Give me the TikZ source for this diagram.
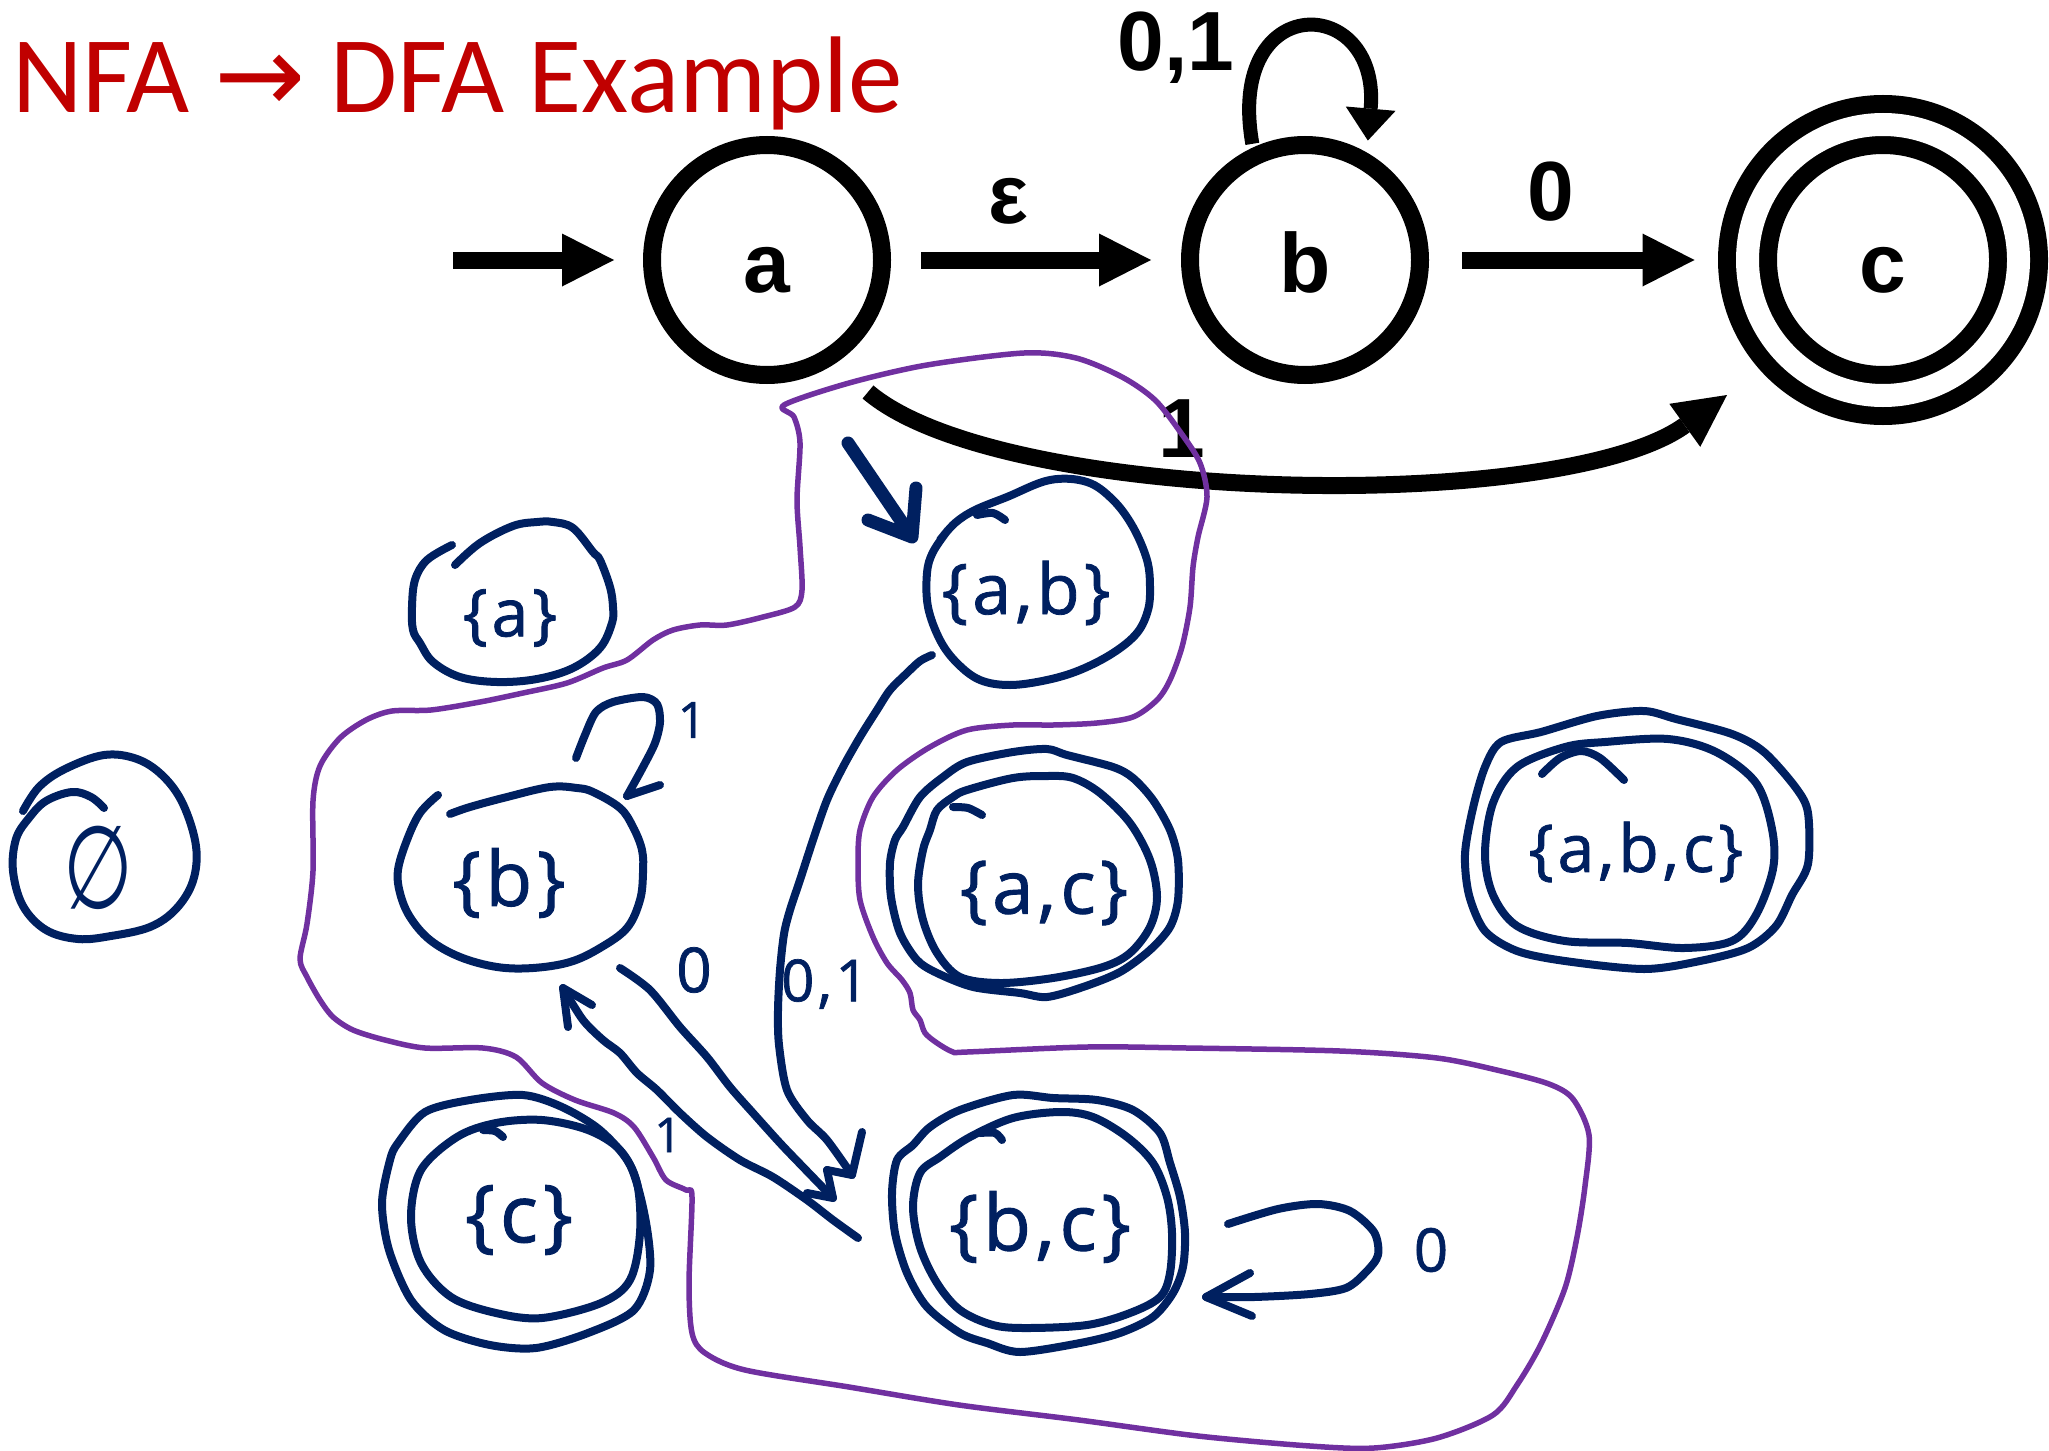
\documentclass[tikz,border=0pt]{standalone}
\usepackage{fontspec}
\usetikzlibrary{arrows.meta,calc}
\newfontfamily\titlefont{Carlito}
\newfontfamily\labelfont{Liberation Sans}
\newfontfamily\handfont{Open Sans}[LetterSpace=6.0, FakeBold=1.2]
\newfontfamily\symbolfont{DejaVu Sans}
\definecolor{penblue}{HTML}{002060}
\definecolor{penpurple}{HTML}{7030A0}
\definecolor{titlered}{HTML}{C00000}
\newcommand{\setsz}[1]{\fontsize{#1}{#1}\selectfont}

\tikzset{
  nfastate/.style={circle, draw=black, line width=18pt, minimum size=230pt,
    inner sep=0pt, outer sep=0pt,
    font=\labelfont\bfseries\setsz{84}, text height=70pt, text depth=6pt},
  nfaaccept/.style={nfastate, minimum size=271pt, double=white, double distance=23pt},
  nfaedge/.style={line width=17pt, -{Triangle[length=52pt,width=53pt,line width=0pt]}},
  nfaloop/.style={line width=14pt, -{Triangle[length=32pt,width=50pt,line width=0pt]}},
  nfalabel/.style={font=\labelfont\bfseries\setsz{84}, inner sep=0pt},
  pen/.style={draw=penblue, line width=8pt, line cap=round, line join=round},
  fence/.style={draw=penpurple, line width=5.5pt, line cap=round, line join=round},
  dstate/.style={text=penblue, inner sep=0pt},
  handlabel/.style={text=penblue, inner sep=0pt},
}

\begin{document}
\begin{tikzpicture}[x=1pt, y=-1pt]
\useasboundingbox (0,0) rectangle (2049,1450);

% ---------- title ----------
\node[anchor=base west, inner sep=0pt, text=titlered, font=\titlefont\setsz{109}]
  (title) at (12,113) {NFA {\symbolfont →} DFA Example};

% ---------- the NFA ----------
\node[nfastate]  (a) at (767,260) {a};
\node[nfastate]  (b) at (1305,260) {b};
\node[nfaaccept] (c) at (1883,260) {c};
\coordinate (start) at (453,260);

\draw[nfaedge, shorten >=38pt] (start) -- (a);
\draw[nfaedge, shorten <=39pt, shorten >=39pt] (a) -- (b);
\draw[nfaedge, shorten <=42pt, shorten >=53pt] (b) -- (c);
\draw[nfaloop, shorten <=13pt, shorten >=22pt] (b.116) to[out=100, in=85, distance=170pt] (b.58);
\draw[nfaedge] ($(a)+(101,132)$) .. controls (1000,505) and (1560,515) .. ($(c)+(-156,135)$);

\node[nfalabel] (leps) at (1008,201) {ε};
\node[nfalabel] (lloop) at (1176,48) {0,1};
\node[nfalabel] (lbc) at (1551,192) {0};
\node[nfalabel] (lac) at (1182,429) {1};

% ---------- the DFA states ----------
\node[dstate, font=\handfont\setsz{66}] (sa)   at (510,618)  {\{a\}};
\node[dstate, font=\handfont\setsz{76}] (sb)   at (509,883)  {\{b\}};
\node[dstate, font=\handfont\setsz{70}] (sab)  at (1026,593) {\{a,b\}};
\node[dstate, font=\handfont\setsz{74}] (sac)  at (1044,893) {\{a,c\}};
\node[dstate, font=\handfont\setsz{78}] (sbc)  at (1040,1227) {\{b,c\}};
\node[dstate, font=\handfont\setsz{80}] (sc)   at (519,1220) {\{c\}};
\node[dstate, font=\handfont\setsz{66}] (sabc) at (1636,852) {\{a,b,c\}};
\node[dstate, font=\symbolfont\setsz{80}] (sempty) at (98,868) {\scalebox{1}[1.45]{∅}};

% outlines of the states
\draw[pen] plot[smooth, tension=0.6] coordinates {(23,811) (39,787) (65,769) (104,755) (137,759) (163,776) (183,804) (196,846) (193,881) (176,909) (150,927) (111,936) (78,939) (46,930) (23,906) (13,871) (16,839) (29,818) (46,801) (72,792) (91,797) (104,808)};
\draw[pen] plot[smooth, tension=0.6] coordinates {(452,545) (427,560) (415,580) (412,607) (413,630) (420,643) (433,662) (460,677) (497,682) (537,679) (573,668) (600,648) (612,623) (613,607) (610,587) (600,560) (593,552) (573,528) (553,522) (537,522) (513,526) (480,543) (455,565)};
\draw[pen] plot[smooth, tension=0.6] coordinates {(438,795) (420,813) (407,840) (398,870) (400,893) (410,917) (430,940) (460,957) (497,967) (533,968) (570,962) (600,948) (627,928) (640,900) (643,873) (642,850) (633,827) (620,808) (593,792) (577,788) (550,787) (507,797) (470,807) (450,814)};
\draw[pen] plot[smooth, tension=0.6] coordinates {(940,540) (955,523) (975,510) (1007,497) (1050,480) (1087,482) (1113,500) (1133,527) (1147,560) (1150,587) (1148,610) (1137,633) (1113,653) (1080,670) (1047,680) (1010,685) (980,680) (957,663) (940,640) (928,607) (927,573) (933,552) (948,530)};
\draw[pen] plot[smooth] coordinates {(977,515) (993,513) (1005,520)};
% {a,c}
\draw[pen] plot[smooth cycle, tension=0.5] coordinates {(903,827) (920,797) (943,777) (967,762) (1013,752) (1047,749) (1067,755) (1113,767) (1133,778) (1153,800) (1170,830) (1178,860) (1178,900) (1170,927) (1150,950) (1120,972) (1083,987) (1047,997) (1020,993) (973,987) (937,973) (917,960) (900,933) (891,897) (890,863) (895,840)};
\draw[pen] plot[smooth cycle, tension=0.55] coordinates {(930,830) (937,810) (953,797) (967,790) (1013,778) (1047,776) (1073,778) (1100,793) (1130,823) (1150,860) (1157,897) (1150,927) (1130,953) (1103,967) (1053,978) (1000,983) (960,977) (937,953) (923,920) (918,885) (923,850)};
\draw[pen] plot[smooth] coordinates {(953,807) (968,808) (982,815)};
% {b,c}
\draw[pen] plot[smooth cycle, tension=0.5] coordinates {(913,1145) (930,1127) (960,1110) (1013,1095) (1053,1098) (1097,1100) (1133,1110) (1160,1133) (1170,1163) (1180,1197) (1185,1233) (1183,1267) (1173,1293) (1153,1317) (1120,1333) (1080,1343) (1020,1352) (987,1343) (960,1333) (927,1307) (907,1273) (895,1233) (892,1193) (897,1160)};
\draw[pen] plot[smooth cycle, tension=0.55] coordinates {(940,1157) (970,1137) (1013,1118) (1060,1112) (1093,1117) (1127,1137) (1153,1163) (1167,1197) (1172,1233) (1170,1273) (1160,1297) (1130,1313) (1087,1325) (1027,1328) (993,1325) (960,1310) (937,1283) (920,1247) (913,1207) (920,1173)};
\draw[pen] plot[smooth] coordinates {(980,1133) (995,1133) (1002,1140)};
% {c}
\draw[pen] plot[smooth cycle, tension=0.5] coordinates {(398,1143) (425,1112) (470,1100) (523,1095) (562,1107) (600,1130) (630,1165) (645,1217) (650,1270) (634,1310) (588,1333) (536,1348) (490,1345) (444,1330) (411,1300) (389,1250) (382,1203) (390,1160)};
\draw[pen] plot[smooth cycle, tension=0.55] coordinates {(457,1137) (496,1123) (542,1120) (588,1130) (620,1150) (637,1183) (640,1233) (630,1280) (601,1303) (542,1318) (496,1313) (451,1297) (421,1263) (411,1217) (421,1170)};
\draw[pen] plot[smooth] coordinates {(483,1130) (495,1131) (503,1137)};
% {a,b,c}
\draw[pen] plot[smooth cycle, tension=0.5] coordinates {(1485,767) (1501,742) (1541,732) (1597,716) (1644,711) (1676,719) (1732,734) (1764,752) (1796,788) (1808,813) (1808,864) (1792,895) (1776,926) (1748,948) (1700,961) (1644,969) (1565,961) (1517,951) (1485,931) (1469,895) (1465,854) (1473,808)};
\draw[pen] plot[smooth cycle, tension=0.55] coordinates {(1517,767) (1565,747) (1605,742) (1668,739) (1716,752) (1756,783) (1772,829) (1773,869) (1756,915) (1732,941) (1684,948) (1628,943) (1565,941) (1517,926) (1493,895) (1485,854) (1493,803)};
\draw[pen] plot[smooth] coordinates {(1542,774) (1560,758) (1581,751) (1600,758) (1624,780)};

% ---------- the DFA transitions ----------
\coordinate (dstart) at (848,443);
\draw[pen, line width=13pt] (dstart) -- ($(sab)+(-114,-56)$) coordinate (t1) -- +(-44,-17) (t1) -- +(4,-49);

% {a,b} --0,1--> {b,c}
\coordinate (e2s) at ($(sab)+(-94,62)$);
\coordinate (e2t) at ($(sbc)+(-188,-52)$);
\draw[pen] plot[smooth] coordinates {(e2s) (920,661) (907,673) (890,690) (877,710) (860,737) (843,767) (827,800) (813,840) (800,880) (790,910) (784,934) (780,970) (778,1010) (779,1045) (787,1090) (807,1120) (827,1140) (e2t)};
\draw[pen] (e2t) -- +(10,-43) (e2t) -- +(-25,-5);

% {b} --0--> {b,c}
\coordinate (e3s) at ($(sb)+(111,85)$);
\coordinate (e3t) at ($(sbc)+(-207,-29)$);
\draw[pen] plot[smooth] coordinates {(e3s) (650,990) (680,1027) (707,1057) (730,1087) (753,1113) (780,1143) (803,1167) (e3t)};
\draw[pen] (e3t) -- +(-6,-28) (e3t) -- +(-26,-5);

% {b,c} --1--> {b}
\coordinate (e4s) at ($(sbc)+(-182,11)$);
\coordinate (e4t) at ($(sb)+(54,105)$);
\draw[pen] plot[smooth] coordinates {(e4s) (833,1220) (807,1200) (773,1177) (740,1160) (707,1137) (680,1113) (657,1090) (637,1073) (620,1053) (603,1040) (583,1020) (e4t)};
\draw[pen] (e4t) -- +(5,39) (e4t) -- +(29,17);

% {b} --1--> {b}
\coordinate (e5s) at ($(sb)+(67,-125)$);
\coordinate (e5t) at ($(sb)+(118,-87)$);
\draw[pen] plot[smooth] coordinates {(e5s) (585,735) (596,712) (613,702) (643,697) (657,704) (660,722) (655,743) (643,767) (e5t)};
\draw[pen] (e5t) -- +(33,-11);

% {b,c} --0--> {b,c}
\coordinate (e6s) at ($(sbc)+(188,-3)$);
\coordinate (e6t) at ($(sbc)+(166,70)$);
\draw[pen] plot[smooth] coordinates {(e6s) (1278,1209) (1318,1204) (1350,1211) (1374,1232) (1378,1255) (1366,1272) (1346,1288) (1310,1294) (1254,1297) (e6t)};
\draw[pen] (e6t) -- +(44,-24) (e6t) -- +(46,19);

% transition labels
\node[handlabel, font=\handfont\setsz{50}] (l5) at (692,720)  {1};
\node[handlabel, font=\handfont\setsz{62}] (l3) at (694,970)  {0};
\node[handlabel, font=\handfont\setsz{48}] (l4) at (668,1135) {1};
\node[handlabel, font=\handfont\setsz{58}] (l2) at (825,984)  {0,1};
\node[handlabel, font=\handfont\setsz{60}] (l6) at (1431,1250) {0};

% ---------- reachable part, fenced ----------
\draw[fence] plot[smooth cycle, tension=0.5] coordinates {(784,405) (849,383) (927,365) (1024,353) (1076,358) (1122,377) (1155,400) (1181,433) (1200,463) (1207,497) (1198,537) (1193,567) (1190,607) (1182,647) (1170,680) (1157,700) (1133,717) (1097,723) (1053,725) (1013,725) (967,730) (930,747) (897,770) (873,797) (860,830) (858,863) (860,900) (873,937) (887,963) (902,980) (910,993) (913,1010) (920,1020) (925,1033) (937,1043) (953,1052) (967,1052) (1087,1047) (1187,1048) (1340,1051) (1437,1058) (1501,1071) (1549,1084) (1573,1099) (1589,1135) (1585,1186) (1577,1237) (1565,1288) (1541,1344) (1517,1385) (1493,1415) (1437,1438) (1374,1448) (1310,1446) (1198,1436) (1079,1420) (959,1405) (849,1387) (745,1370) (705,1353) (692,1333) (689,1283) (692,1197) (686,1190) (666,1180) (653,1157) (634,1127) (614,1113) (575,1100) (542,1083) (516,1057) (483,1048) (425,1048) (385,1040) (353,1030) (333,1017) (320,1000) (307,977) (300,959) (307,924) (313,871) (313,801) (320,766) (340,738) (366,720) (392,711) (431,710) (480,702) (523,693) (567,683) (603,668) (627,660) (653,640) (673,630) (700,625) (727,625) (763,617) (795,607) (802,590) (800,547) (797,500) (800,443) (794,417)};

\end{tikzpicture}
\end{document}
